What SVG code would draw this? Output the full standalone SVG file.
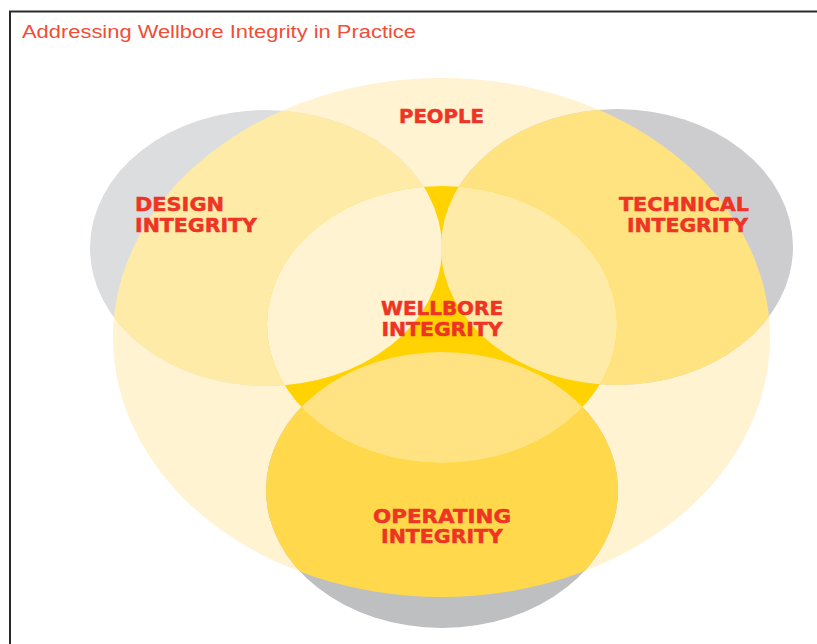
<svg xmlns="http://www.w3.org/2000/svg" width="817" height="644" viewBox="0 0 817 644">
  <style>
    .lbl { font-family: "DejaVu Sans", "Liberation Sans", sans-serif; font-weight: bold; font-size: 19px; fill: #EE3424; stroke: #EE3424; stroke-width: 0.5; }
    .title { font-family: "Liberation Sans", "DejaVu Sans", sans-serif; font-size: 18px; fill: #F04E37; }
    .frame { fill: none; stroke: #2a2a2a; stroke-width: 2; }
  </style>
  <defs>
    <clipPath id="inPeople">
      <ellipse cx="441.5" cy="337.5" rx="328.5" ry="259.5"/>
    </clipPath>
    <clipPath id="inCentral">
      <ellipse cx="442" cy="324.5" rx="175" ry="138.5"/>
    </clipPath>
  </defs>
  <rect width="817" height="644" fill="#FFFFFF"/>
  <path class="frame" d="M10,644 V11.5 H817"/>
  <text class="title" x="22" y="38" textLength="394" lengthAdjust="spacingAndGlyphs">Addressing Wellbore Integrity in Practice</text>

  <g id="people">
    <ellipse cx="441.5" cy="337.5" rx="328.5" ry="259.5" fill="#FFF3D2"/>
    <text class="lbl" x="441.5" y="123" text-anchor="middle" textLength="85" lengthAdjust="spacingAndGlyphs">PEOPLE</text>
  </g>

  <g id="design">
    <ellipse cx="266" cy="248" rx="176" ry="138" fill="#DCDDDF"/>
    <ellipse cx="266" cy="248" rx="176" ry="138" fill="#FFEBA8" clip-path="url(#inPeople)"/>
    <text class="lbl" x="135" y="211" textLength="89" lengthAdjust="spacingAndGlyphs">DESIGN</text>
    <text class="lbl" x="135" y="232" textLength="122" lengthAdjust="spacingAndGlyphs">INTEGRITY</text>
  </g>

  <g id="technical">
    <ellipse cx="617" cy="247" rx="176" ry="138" fill="#CDCDCF"/>
    <ellipse cx="617" cy="247" rx="176" ry="138" fill="#FFE380" clip-path="url(#inPeople)"/>
    <text class="lbl" x="749" y="211" text-anchor="end" textLength="130" lengthAdjust="spacingAndGlyphs">TECHNICAL</text>
    <text class="lbl" x="748" y="232" text-anchor="end" textLength="121" lengthAdjust="spacingAndGlyphs">INTEGRITY</text>
  </g>

  <g id="operating">
    <ellipse cx="442" cy="490" rx="176" ry="138" fill="#BEBFC1"/>
    <ellipse cx="442" cy="490" rx="176" ry="138" fill="#FFD94B" clip-path="url(#inPeople)"/>
    <text class="lbl" x="442" y="523" text-anchor="middle" textLength="138" lengthAdjust="spacingAndGlyphs">OPERATING</text>
    <text class="lbl" x="442" y="543" text-anchor="middle" textLength="122" lengthAdjust="spacingAndGlyphs">INTEGRITY</text>
  </g>

  <g id="wellbore">
    <ellipse cx="442" cy="324.5" rx="175" ry="138.5" fill="#FFD200"/>
    <g clip-path="url(#inCentral)">
      <ellipse cx="266" cy="248" rx="176" ry="138" fill="#FFF3D2"/>
      <ellipse cx="617" cy="247" rx="176" ry="138" fill="#FFEBA8"/>
      <ellipse cx="442" cy="490" rx="176" ry="138" fill="#FFE382"/>
    </g>
    <text class="lbl" x="442" y="315" text-anchor="middle" textLength="122" lengthAdjust="spacingAndGlyphs">WELLBORE</text>
    <text class="lbl" x="442" y="336" text-anchor="middle" textLength="121" lengthAdjust="spacingAndGlyphs">INTEGRITY</text>
  </g>

  <g id="connectors"/>
</svg>
